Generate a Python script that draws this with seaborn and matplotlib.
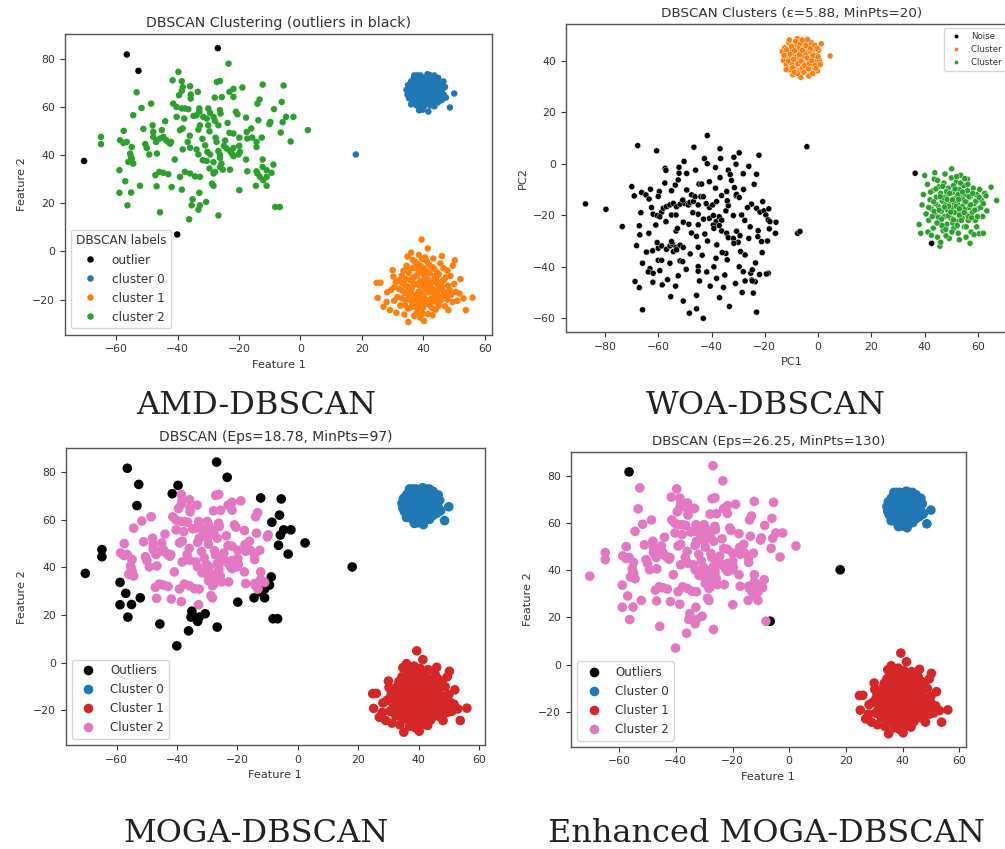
import matplotlib
matplotlib.use("Agg")
import matplotlib.pyplot as plt
import seaborn as sns
import numpy as np
import pandas as pd

# ---- shared data (AMD / MOGA / Enhanced MOGA panels) ----
# sparse cluster, points every method keeps in cluster 2
core_x = [-38.3, -38.6, -38.6, -35.9, -33.4, -35.7, -35.7, -39.5, -21.8, -18.9, -23.1, -25.6, -27.9, -21.8,
          -13.3, -14.0, -27.2, -26.2, -48.6, -51.7, -41.4, -40.3, -38.6, -37.6, -36.5, -32.9, -32.9, -30.0,
          -29.4, -26.2, -26.0, -21.0, -20.5, -17.7, -40.3, -37.8, -54.4, -34.8, -33.8, -31.6, -30.5, -28.3,
          -27.8, -23.7, -13.7, -9.8, -10.1, -57.5, -51.1, -48.1, -47.9, -45.1, -39.2, -38.3, -32.7, -33.2,
          -30.0, -29.6, -26.7, -23.1, -21.8, -19.9, -17.5, -17.3, -15.7, -12.6, -58.7, -57.6, -56.5, -47.9,
          -46.8, -45.7, -44.6, -43.7, -43.0, -42.4, -47.0, -42.1, -36.7, -31.9, -27.6, -27.3, -24.9, -24.0,
          -21.8, -19.9, -54.9, -50.0, -55.4, -55.2, -54.9, -56.0, -54.4, -55.2, -49.2, -46.7, -38.3, -35.9,
          -33.8, -33.2, -30.3, -29.4, -26.7, -26.2, -26.2, -22.9, -22.3, -21.8, -20.2, -19.7, -14.3, -14.3,
          -17.7, -12.3, -31.8, -30.5, -28.3, -25.7, -26.2, -40.9, -47.2, -45.9, -44.6, -43.0, -39.2, -37.6,
          -35.9, -34.3, -32.7, -29.6, -27.8, -28.3, -25.3, -22.9, -17.3, -14.3, -14.0, -13.2, -12.3, -11.0,
          -46.8, -41.9, -38.6, -28.8, -28.3, -32.9, -36.0, -31.0, -24.5, -16.0, -44.0, -50.5]
core_y = [68.2, 66.6, 70.6, 68.5, 66.2, 65.1, 63.4, 64.8, 67.4, 68.0, 66.2, 64.0, 63.8, 64.1,
          63.0, 61.3, 70.3, 70.7, 61.3, 59.5, 61.3, 59.9, 59.3, 59.3, 59.0, 59.3, 57.9, 59.3,
          57.5, 58.6, 57.2, 57.9, 56.9, 55.5, 55.8, 55.1, 56.5, 56.2, 56.5, 55.8, 55.1, 55.8,
          54.1, 53.3, 54.4, 53.7, 52.8, 50.0, 50.8, 52.3, 49.6, 50.3, 50.3, 51.0, 52.3, 50.5,
          52.3, 49.8, 52.3, 49.2, 48.9, 47.2, 49.6, 46.8, 47.2, 47.2, 46.1, 45.0, 45.4, 47.5,
          46.1, 46.8, 47.5, 46.1, 45.4, 44.7, 45.4, 45.4, 45.4, 46.7, 47.1, 45.4, 43.8, 42.7,
          42.9, 43.8, 43.3, 42.9, 40.6, 39.5, 38.5, 37.1, 36.4, 37.8, 40.2, 40.6, 42.3, 43.0,
          42.3, 40.2, 41.3, 40.2, 41.6, 40.0, 38.8, 41.6, 40.5, 39.5, 40.2, 41.3, 45.4, 43.3,
          38.1, 38.1, 37.8, 37.5, 37.0, 36.4, 35.0, 38.1, 31.6, 33.0, 32.6, 32.0, 30.9, 33.0,
          32.3, 31.1, 30.9, 34.4, 33.0, 32.3, 33.9, 33.9, 33.2, 33.2, 32.3, 30.9, 35.0, 33.7,
          27.0, 26.7, 25.6, 28.1, 27.2, 24.3, 48.0, 44.0, 46.0, 51.0, 54.0, 44.5]

# points on the rim of the sparse cluster (MOGA calls them outliers)
edge_x = [-23.4, -39.7, -41.6, -53.3, -12.3, -5.5, -6.1, -8.6, -4.7, -5.8, -2.3, -6.4, -3.2, 2.4,
          -64.9, -64.9, -58.9, -57.0, -58.9, -55.1, -52.2, -56.3, -45.7, -36.2, -35.1, -35.4, -32.7,
          -30.7, -33.2, -26.7, -19.9, -14.5, -12.1, -11.0, -11.0, -8.8, -9.4, -8.2]
edge_y = [77.9, 74.5, 71.0, 66.0, 69.2, 68.8, 62.0, 59.0, 55.8, 53.6, 55.8, 49.3, 45.6, 50.3,
          47.5, 44.5, 33.7, 29.1, 24.3, 24.4, 27.2, 19.1, 16.2, 13.3, 21.6, 19.1, 19.1,
          20.5, 17.3, 14.9, 25.4, 27.2, 29.5, 27.2, 30.9, 36.0, 32.6, 18.4]

# far points AMD marks as outliers
far_x = [-52.7, -26.9, -70.4, -40.1]
far_y = [74.9, 84.3, 37.5, 7.0]
lone_x, lone_y = [-56.5], [81.7]     # outlier for every method
gap_x, gap_y = [18.0], [40.2]        # isolated point between clusters
tail_x, tail_y = [-6.7], [18.4]

# dense cluster top right
blob0_x = [34.5, 34.8, 35.0, 35.3, 35.5, 36.0, 36.2, 36.4, 36.6, 36.8, 37.2, 37.3, 37.5, 37.6, 37.8,
           37.9, 38.2, 38.4, 38.5, 38.6, 38.8, 39.0, 39.1, 39.3, 39.5, 39.6, 39.8, 40.0, 40.1, 40.3,
           40.4, 40.6, 40.8, 41.0, 41.2, 41.3, 41.4, 41.6, 41.7, 41.9, 42.0, 42.2, 42.4, 42.5, 42.7,
           42.9, 43.1, 43.3, 43.5, 43.6, 43.8, 44.0, 44.3, 44.5, 44.7, 45.0, 45.2, 45.5, 45.8, 46.0,
           46.3, 46.6, 47.0, 47.3, 50.0, 48.6, 36.0, 39.0, 44.0, 37.0,
           36.2, 37.0, 37.4, 37.7, 38.1, 38.3, 38.9, 39.2, 39.4, 39.7, 40.0, 40.2, 40.5, 40.7, 40.9,
           41.1, 41.5, 41.8, 42.1, 42.3, 42.6, 42.8, 43.0, 43.4, 43.7, 44.2, 44.6, 45.3, 45.6, 36.8,
           38.0, 42.0, 44.8, 46.5, 39.8]
blob0_y = [67.0, 65.0, 69.0, 63.5, 66.5, 70.5, 68.0, 64.5, 62.0, 66.8, 72.0, 69.5, 67.2, 65.0, 60.5,
           63.0, 71.0, 68.5, 66.0, 58.5, 61.5, 73.0, 64.0, 70.0, 67.5, 62.5, 65.5, 72.0, 60.0, 68.8,
           63.8, 66.5, 70.8, 61.8, 65.0, 73.5, 67.8, 58.0, 63.0, 69.5, 66.0, 60.5, 71.5, 64.2, 67.2,
           62.0, 69.0, 65.5, 73.0, 60.2, 67.8, 63.5, 70.5, 66.2, 61.8, 68.5, 64.5, 66.8, 70.0, 62.8,
           67.5, 65.0, 68.2, 63.8, 65.5, 59.7, 61.0, 59.5, 71.5, 73.0,
           66.0, 64.0, 67.8, 70.2, 62.4, 64.8, 67.0, 69.0, 71.6, 63.2, 65.0, 67.5, 69.8, 61.2, 64.0,
           66.8, 68.8, 71.2, 62.8, 65.5, 68.2, 70.2, 63.8, 66.6, 68.8, 64.8, 67.6, 62.5, 69.2, 71.8,
           73.0, 73.2, 72.0, 70.5, 58.8]

# dense cluster bottom right
blob1_x = [39.4, 41.4, 38.5, 40.5, 43.2, 36.5, 50.2, 45.5, 38.0, 41.8, 34.5, 49.5, 36.8, 40.0, 43.5,
           30.0, 47.8, 38.6, 35.2, 42.0, 45.0, 33.0, 48.8, 37.2, 40.6, 44.2, 32.1, 35.8, 39.0, 46.5,
           42.8, 24.8, 26.0, 37.5, 41.2, 34.0, 44.8, 48.0, 30.5, 39.8, 36.2, 43.0, 46.2, 33.0, 38.4,
           41.6, 50.5, 51.7, 28.2, 35.0, 44.5, 47.6, 40.0, 37.0, 31.5, 56.0, 25.1, 42.6, 53.0, 34.2,
           45.6, 39.0, 28.0, 49.5, 36.5, 42.0, 32.5, 47.0, 39.8, 35.0, 29.1, 44.0, 48.1, 53.8, 37.8,
           41.5, 33.8, 35.1, 40.2, 39.0, 27.0, 30.2, 46.0, 52.0, 36.0, 43.8, 38.2, 41.0, 34.8, 31.2,
           33.5, 35.5, 37.8, 39.2, 41.0, 42.8, 44.5, 46.5, 34.2, 36.6, 38.0, 40.0, 41.6, 43.6, 45.6,
           47.2, 33.2, 35.0, 36.8, 38.8, 40.4, 42.2, 44.0, 46.0, 32.0, 34.0, 36.0, 37.8, 39.4, 41.0,
           43.0, 44.6, 46.8, 48.5, 33.0, 35.4, 37.2, 38.6, 40.8, 42.4, 44.2, 46.0, 47.8, 34.0, 36.0,
           38.0, 40.4, 42.8, 45.0, 37.0, 39.8, 43.0, 31.0, 29.5, 30.5, 50.0, 49.0, 51.0, 39.6, 37.2]
blob1_y = [4.9, 1.2, -1.5, -2.5, -3.0, -3.5, -3.7, -5.0, -5.2, -5.5, -6.0, -6.0, -6.8, -7.0, -7.2,
           -7.8, -8.0, -8.5, -9.0, -9.0, -9.5, -10.0, -10.2, -10.5, -10.8, -11.0, -12.0, -12.0, -12.2, -12.0,
           -12.5, -13.1, -13.0, -13.6, -13.8, -14.0, -14.0, -14.2, -14.8, -15.0, -15.5, -15.6, -16.0, -16.2, -16.8,
           -17.0, -16.8, -17.5, -17.0, -17.8, -17.8, -18.5, -18.6, -19.0, -19.0, -19.2, -19.3, -19.6, -19.5, -20.2,
           -20.4, -20.8, -21.0, -21.0, -21.8, -22.2, -22.5, -22.8, -23.5, -23.8, -24.4, -24.2, -24.4, -24.4, -25.5,
           -26.0, -26.2, -29.3, -28.9, -27.5, -23.0, -10.5, -2.0, -11.5, -0.5, -20.8, -22.5, -4.0, -2.2, -25.5,
           -8.0, -7.5, -7.0, -6.2, -8.2, -6.5, -8.8, -7.0, -11.5, -11.0, -9.8, -9.5, -11.8, -10.2, -13.0,
           -10.8, -13.2, -14.8, -13.5, -14.2, -12.8, -14.6, -12.8, -14.6, -15.5, -17.2, -16.8, -18.0, -17.4, -15.8,
           -17.2, -16.2, -17.0, -16.0, -19.5, -20.0, -20.8, -19.6, -20.2, -21.0, -19.2, -18.8, -20.0, -22.2, -23.2,
           -24.0, -22.0, -23.5, -22.6, -26.8, -25.8, -26.5, -12.8, -16.0, -20.5, -13.5, -18.0, -20.5, -3.2, -4.2]

# ---- WOA panel data (PCA space) ----
woa_noise_x = [-41.6, -67.7, -60.6, -46.6, -36.8, -36.6, -42.7, -41.6, -31.6, -29.6, -30.8, -22.2, -57.4, -57.1,
               -50.3, -52.2, -52.2, -49.3, -52.5, -53.6, -44.7, -43.7, -40.8, -36.8, -33.7, -33.0, -28.1, -23.1,
               -69.9, -69.0, -66.2, -64.6, -62.9, -63.4, -59.6, -60.0, -87.3, -79.6, -73.5, -61.9, -60.4, -58.7,
               -58.1, -56.9, -55.6, -54.3, -53.1, -51.8, -50.0, -48.7, -50.8, -48.1, -46.8, -45.0, -49.3, -47.5,
               -46.2, -44.0, -43.1, -45.0, -45.0, -57.1, -55.0, -53.3, -60.9, -59.4, -53.3, -52.8, -50.6, -40.8,
               -39.6, -38.1, -36.2, -34.3, -31.4, -30.8, -40.8, -39.3, -38.3, -37.1, -36.2, -39.3, -39.1, -37.1,
               -36.2, -34.6, -33.7, -31.8, -34.1, -30.6, -29.6, -28.7, -25.0, -23.1, -21.8, -20.8, -20.3, -19.6,
               -18.7, -18.1, -15.8, -18.3, -7.7, -6.8, -4.2, -67.1, -66.9, -68.1, -64.4, -62.1, -60.0, -65.9,
               -63.1, -63.7, -61.9, -59.4, -60.0, -58.7, -55.6, -51.8, -50.8, -60.4, -58.7, -56.9, -55.6, -54.6,
               -53.3, -51.8, -50.6, -55.0, -54.3, -53.1, -68.7, -67.1, -65.9, -55.3, -50.6, -48.3, -45.6, -45.6,
               -43.1, -45.0, -45.0, -45.0, -47.5, -45.6, -42.5, -41.8, -39.1, -38.1, -35.0, -34.6, -34.1, -38.3,
               -33.3, -29.6, -28.1, -27.4, -25.3, -24.9, -23.6, -29.1, -27.4, -24.3, -23.1, -21.2, -18.7, -30.6,
               -29.3, -30.0, -34.3, -33.7, -31.8, -31.6, -26.5, -27.5, -25.5, -22.5, -26.0, -28.0, -24.0, -32.5,
               -38.5, -42.0, -47.0, -43.0, -48.5, -41.5, -38.0, -36.0, -43.5, -48.0, -49.5, -52.5, -56.5, -58.5,
               -62.0, -53.5, -40.5, -35.5, -31.0, -28.5, -37.0, -21.0, -23.5, -19.0, -22.0, -16.0, -18.5, -63.5,
               -62.5, -66.5, -57.5, -55.0, -46.0, -38.5, -26.0, -44.5, -19.4, -24.7, -24.7, -22.6, 36.4, 42.6]
woa_noise_y = [10.9, 7.0, 5.0, 6.4, 5.8, 2.0, 2.0, 0.0, 2.5, 4.2, -0.2, 3.3, -1.8, -2.6,
               0.9, -1.4, -3.7, -3.8, -6.3, -8.3, -7.9, -7.9, -7.0, -5.4, -2.5, -4.2, -3.9, -4.1,
               -8.9, -12.5, -11.2, -12.1, -9.9, -13.7, -10.8, -12.7, -15.6, -17.7, -24.4, -19.6, -20.1, -18.8,
               -17.3, -16.7, -16.0, -15.4, -16.7, -15.7, -15.4, -16.0, -14.1, -15.0, -14.7, -16.0, -10.2, -12.1,
               -12.8, -12.8, -12.8, -19.6, -23.7, -22.5, -19.9, -19.9, -23.8, -20.6, -26.1, -25.1, -22.7, -17.0,
               -16.0, -14.7, -12.4, -10.8, -9.3, -12.4, -21.2, -20.1, -22.5, -20.6, -21.9, -23.8, -25.1, -24.0,
               -26.1, -18.3, -16.3, -20.1, -14.4, -11.9, -13.1, -19.9, -15.7, -17.3, -18.8, -14.7, -18.3, -19.9,
               -21.8, -22.5, -22.7, -25.3, -27.0, -26.3, 6.6, -24.1, -27.6, -31.8, -34.3, -33.8, -32.8, -38.6,
               -40.7, -42.0, -42.5, -41.5, -37.5, -37.5, -38.6, -37.7, -38.0, -30.6, -31.9, -33.2, -31.9, -31.2,
               -32.5, -31.6, -32.5, -30.2, -34.1, -33.4, -45.7, -48.1, -56.7, -51.6, -53.3, -58.0, -51.1, -56.3,
               -60.0, -32.4, -39.9, -41.7, -26.9, -28.2, -27.3, -42.0, -40.0, -44.5, -43.2, -34.8, -37.3, -36.7,
               -55.4, -40.0, -41.9, -45.5, -42.5, -45.1, -45.8, -34.1, -35.4, -50.2, -57.6, -30.2, -42.5, -26.2,
               -27.9, -30.5, -27.0, -28.7, -29.0, -30.9, -17.0, -22.0, -24.5, -26.0, -29.0, -10.0, -8.0, -6.5,
               -9.5, -15.5, -19.0, -21.5, -23.5, -30.0, -31.5, -34.5, -35.5, -35.0, -41.0, -43.5, -45.0, -47.0,
               -46.0, -47.5, -47.5, -48.0, -46.5, -50.0, -52.0, -34.5, -38.5, -30.0, -43.0, -27.0, -17.5, -27.0,
               -17.0, -19.0, -7.5, -10.5, -2.5, -1.5, -1.0, -45.5, -42.8, -41.2, -45.5, -28.3, -3.7, -30.9]

woa_c0_x = [-13.5, -13.0, -12.5, -12.0, -11.5, -11.0, -10.8, -10.2, -9.8, -9.5, -9.0, -8.6, -8.2, -7.8, -7.5,
            -7.2, -6.8, -6.5, -6.2, -5.8, -5.5, -5.0, -4.8, -4.5, -4.0, -3.8, -3.5, -3.0, -2.6, -2.2,
            -2.0, -1.5, -1.0, -0.6, -0.2, 0.2, 0.5, 1.2, 4.5, -8.0, -10.0, -6.0, -3.0, -1.2, -7.0,
            -12.8, -11.8, -11.2, -10.5, -10.0, -9.6, -9.2, -8.8, -8.4, -7.8, -7.6, -7.0, -6.6, -6.4, -5.9,
            -5.3, -5.0, -4.6, -4.2, -3.6, -3.2, -2.8, -2.4, -1.8, -1.4, -0.8, -0.4, 0.0, -9.0, -4.0,
            -6.0, -10.8, -2.0, 0.8, -12.0]
woa_c0_y = [43.5, 40.0, 45.0, 38.5, 42.0, 47.0, 36.5, 40.5, 44.0, 34.5, 42.8, 38.0, 46.0, 48.5, 40.2,
            36.0, 43.5, 33.5, 45.5, 39.0, 41.8, 47.5, 36.8, 43.0, 38.5, 45.0, 34.0, 40.5, 47.0, 42.5,
            37.5, 44.5, 39.5, 42.0, 36.0, 44.0, 40.0, 46.5, 41.8, 41.5, 39.0, 37.0, 43.8, 38.0, 45.0,
            42.0, 44.2, 39.8, 42.5, 45.5, 37.2, 40.5, 43.8, 47.5, 35.0, 38.8, 42.2, 46.8, 39.8, 44.0,
            35.5, 38.2, 45.8, 41.0, 36.8, 39.0, 44.8, 40.0, 42.0, 46.0, 37.0, 44.8, 41.5, 35.5, 48.2,
            48.0, 48.0, 35.0, 38.5, 36.5]

woa_c1_x = [38.5, 37.9, 40.0, 50.1, 64.9, 67.0, 63.3, 60.4, 57.0, 45.7, 39.0, 39.5, 40.5, 41.0, 41.5,
            42.0, 42.5, 43.0, 43.2, 43.6, 44.0, 44.3, 44.8, 45.0, 45.3, 45.7, 46.0, 46.2, 46.6, 46.9,
            47.2, 47.5, 47.8, 48.0, 48.3, 48.6, 48.9, 49.2, 49.5, 49.7, 50.0, 50.3, 50.6, 50.9, 51.2,
            51.5, 51.8, 52.0, 52.3, 52.6, 52.9, 53.2, 53.5, 53.8, 54.0, 54.3, 54.6, 54.9, 55.2, 55.5,
            55.8, 56.1, 56.4, 56.7, 57.0, 57.4, 57.8, 58.2, 58.6, 59.0, 59.5, 60.0, 60.6, 61.2, 61.8,
            62.5, 43.5, 46.5, 49.0, 51.0, 53.0, 55.0, 47.0, 52.5, 45.2, 50.5, 54.5, 48.2, 56.5, 44.0,
            58.5, 41.2, 53.0, 62.0, 46.0, 50.8, 43.8, 56.0,
            41.5, 42.2, 42.8, 43.4, 44.2, 44.6, 45.4, 45.8, 46.4, 46.8, 47.4, 47.9, 48.4, 48.8, 49.4,
            49.8, 50.2, 50.4, 50.8, 51.4, 51.8, 52.2, 52.7, 53.0, 53.4, 53.7, 54.2, 54.8, 55.3, 55.6,
            56.2, 56.6, 57.2, 57.6, 58.0, 58.8, 59.2, 59.8, 60.4, 61.0, 62.0, 63.0, 44.8, 47.6, 52.0,
            55.0, 42.5, 48.0, 55.5, 59.5]
woa_c1_y = [-27.0, -23.6, -4.6, -2.0, -9.1, -14.3, -18.3, -27.2, -30.9, -32.0, -16.0, -12.0, -19.5, -8.0, -22.0,
            -14.0, -17.5, -10.5, -25.0, -6.0, -20.0, -13.0, -28.5, -16.5, -9.0, -22.5, -11.5, -18.5, -14.5, -26.0,
            -7.5, -20.5, -16.0, -12.5, -23.5, -18.0, -9.5, -29.0, -14.5, -21.0, -5.5, -17.0, -11.0, -25.0, -19.0,
            -13.5, -7.0, -22.5, -15.5, -27.0, -10.0, -18.5, -4.5, -13.0, -21.0, -16.5, -8.5, -24.5, -12.0, -19.5,
            -15.0, -10.5, -22.0, -17.0, -13.0, -26.5, -19.0, -9.5, -15.5, -22.0, -12.0, -17.5, -10.0, -14.0, -20.5,
            -11.5, -18.5, -24.0, -16.5, -15.0, -20.0, -17.8, -13.2, -12.0, -20.8, -23.0, -14.0, -10.8, -20.5, -15.5,
            -27.5, -26.5, -29.5, -27.0, -30.5, -8.5, -3.5, -6.0,
            -17.0, -11.0, -20.5, -14.8, -9.8, -23.0, -18.0, -12.8, -21.5, -8.8, -16.8, -25.5, -13.8, -20.2, -11.5,
            -18.8, -26.5, -14.0, -21.8, -9.8, -16.5, -24.0, -13.8, -17.5, -7.5, -22.0, -11.0, -19.0, -14.8, -24.5,
            -8.0, -12.8, -16.0, -21.0, -11.5, -18.0, -14.5, -20.5, -13.0, -17.0, -15.5, -12.5, -6.5, -4.0, -5.0,
            -5.8, -27.8, -28.0, -28.5, -24.5]

# label of each point group, per method
amd_labels = {"lone": "outlier", "far": "outlier", "gap": "cluster 0", "edge": "cluster 2", "tail": "cluster 2",
              "core": "cluster 2", "blob0": "cluster 0", "blob1": "cluster 1"}
moga_labels = {"lone": "Outliers", "far": "Outliers", "gap": "Outliers", "edge": "Outliers", "tail": "Outliers",
               "core": "Cluster 2", "blob0": "Cluster 0", "blob1": "Cluster 1"}
emoga_labels = {"lone": "Outliers", "far": "Cluster 2", "gap": "Outliers", "edge": "Cluster 2", "tail": "Outliers",
                "core": "Cluster 2", "blob0": "Cluster 0", "blob1": "Cluster 1"}


def make_frame(groups):
    parts = [pd.DataFrame({"x": gx, "y": gy, "group": name}) for name, (gx, gy) in groups.items()]
    return pd.concat(parts, ignore_index=True)


points = make_frame({
    "lone": (lone_x, lone_y), "far": (far_x, far_y), "gap": (gap_x, gap_y), "edge": (edge_x, edge_y),
    "tail": (tail_x, tail_y), "core": (core_x, core_y), "blob0": (blob0_x, blob0_y), "blob1": (blob1_x, blob1_y),
})
woa = make_frame({"Noise": (woa_noise_x, woa_noise_y), "Cluster 0": (woa_c0_x, woa_c0_y),
                  "Cluster 1": (woa_c1_x, woa_c1_y)})
woa["label"] = woa["group"]

TEXT = "#333333"
plt.rcParams.update({
    "text.color": TEXT, "axes.labelcolor": TEXT, "xtick.color": TEXT, "ytick.color": TEXT,
    "axes.edgecolor": "#555555", "xtick.labelsize": 7.8, "ytick.labelsize": 7.8, "axes.labelsize": 8.2,
})


def panel(ax, df, order, palette, size, title, title_size, legend_kw):
    df = df.copy()
    df["label"] = pd.Categorical(df["label"], categories=order, ordered=True)
    df = df.sort_values("label", kind="stable")
    sns.scatterplot(data=df, x="x", y="y", hue="label", hue_order=order, palette=palette,
                    s=size, linewidth=0, ax=ax)
    ax.set_title(title, fontsize=title_size, color=TEXT, pad=5)
    sns.move_legend(ax, **legend_kw)


fig = plt.figure(figsize=(10.05, 8.49), dpi=100)
W, H = 1005, 849


def add_axes(left, top, right, bottom):
    return fig.add_axes([left / W, 1 - bottom / H, (right - left) / W, (bottom - top) / H])


# AMD-DBSCAN
ax1 = add_axes(65, 33.5, 492, 334.5)
df1 = points.copy()
df1["label"] = df1["group"].map(amd_labels)
panel(ax1, df1, ["outlier", "cluster 0", "cluster 1", "cluster 2"],
      {"outlier": "black", "cluster 0": "#1f77b4", "cluster 1": "#ff7f0e", "cluster 2": "#2ca02c"},
      22, "DBSCAN Clustering (outliers in black)", 10.2,
      dict(loc="lower left", title="DBSCAN labels", fontsize=8.7, title_fontsize=8.7))
ax1.set_xlim(-76.6, 62.3)
ax1.set_ylim(-34.5, 90.4)
ax1.set_xlabel("Feature 1")
ax1.set_ylabel("Feature 2")

# WOA-DBSCAN
ax2 = add_axes(566, 24, 1018, 332)
sns.scatterplot(data=woa, x="x", y="y", hue="label", hue_order=["Noise", "Cluster 0", "Cluster 1"],
                palette={"Noise": "black", "Cluster 0": "#ff7f0e", "Cluster 1": "#2ca02c"},
                s=19, edgecolor="white", linewidth=0.3, ax=ax2)
ax2.set_title("DBSCAN Clusters (\u03b5=5.88, MinPts=20)", fontsize=9.7, color=TEXT, pad=5)
sns.move_legend(ax2, loc="upper right", title=None, fontsize=6.2, markerscale=0.7)
ax2.set_xlim(-94.6, 75.0)
ax2.set_ylim(-65.3, 54.2)
ax2.set_xlabel("PC1")
ax2.set_ylabel("PC2")

# MOGA-DBSCAN
bottom_order = ["Outliers", "Cluster 0", "Cluster 1", "Cluster 2"]
bottom_pal = {"Outliers": "black", "Cluster 0": "#1f77b4", "Cluster 1": "#d62728", "Cluster 2": "#e377c2"}
ax3 = add_axes(65.7, 448.3, 485, 745)
df3 = points.copy()
df3["label"] = df3["group"].map(moga_labels)
panel(ax3, df3, bottom_order, bottom_pal, 48, "DBSCAN (Eps=18.78, MinPts=97)", 10.0,
      dict(loc="lower left", title=None, fontsize=8.6))
ax3.set_xlim(-76.9, 62.0)
ax3.set_ylim(-34.7, 90.1)
ax3.set_xlabel("Feature 1")
ax3.set_ylabel("Feature 2")

# Enhanced MOGA-DBSCAN
ax4 = add_axes(571, 452.3, 965.7, 746.7)
df4 = points.copy()
df4["label"] = df4["group"].map(emoga_labels)
panel(ax4, df4, bottom_order, bottom_pal, 48, "DBSCAN (Eps=26.25, MinPts=130)", 9.6,
      dict(loc="lower left", title=None, fontsize=8.6))
ax4.set_xlim(-77.0, 62.3)
ax4.set_ylim(-34.8, 90.0)
ax4.set_xlabel("Feature 1")
ax4.set_ylabel("Feature 2")

for a in (ax1, ax2, ax3, ax4):
    for sp in a.spines.values():
        sp.set_linewidth(1.0)

# captions under each panel
cap = dict(ha="center", va="center", family="DejaVu Serif", fontsize=23, color="#222222")
fig.text(256 / W, 1 - 405 / H, "AMD-DBSCAN", **cap)
fig.text(766 / W, 1 - 405 / H, "WOA-DBSCAN", **cap)
fig.text(256 / W, 1 - 833 / H, "MOGA-DBSCAN", **cap)
fig.text(766 / W, 1 - 833 / H, "Enhanced MOGA-DBSCAN", **cap)

fig.savefig("out.png", dpi=100, facecolor="white")
